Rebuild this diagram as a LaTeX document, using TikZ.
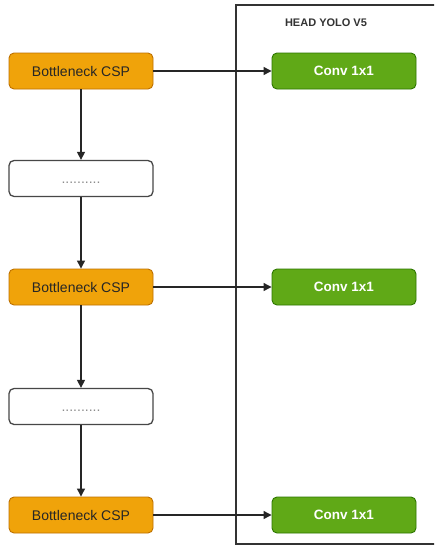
\documentclass[tikz,border=0pt]{standalone}
\usepackage{fontspec}
\setmainfont{Liberation Sans}
\usetikzlibrary{arrows.meta}
\definecolor{orfill}{HTML}{F0A30A}
\definecolor{ordraw}{HTML}{BD7000}
\definecolor{grfill}{HTML}{60A917}
\definecolor{grdraw}{HTML}{2D7600}
\definecolor{edge}{HTML}{333333}
\begin{document}
\begin{tikzpicture}[x=1pt,y=-1pt,
  box/.style={rounded corners=5pt, minimum width=144pt, minimum height=36pt, inner sep=0pt, font=\fontsize{14}{16}\selectfont, line width=0.9pt},
  csp/.style={box, fill=orfill, draw=ordraw, text=black!85},
  conv/.style={box, fill=grfill, draw=grdraw, text=white, font=\fontsize{13.5}{16}\selectfont\bfseries},
  dots/.style={box, fill=white, draw=edge!90, line width=1.3pt},
  dotstext/.style={font=\fontsize{14}{16}\selectfont, text=black!45, inner sep=0pt},
  arr/.style={-{Triangle[length=8pt,width=8pt]}, line width=1.2pt, draw=black!85}]
\useasboundingbox (0,0) rectangle (434,546);
\clip (0,0) rectangle (434,546);
\fill[white] (0,0) rectangle (434,546);
\draw[edge, line width=1.4pt] (450,5) -- (236,5) -- (236,544) -- (450,544);
\node[font=\fontsize{11}{13}\selectfont\bfseries, text=black!80] (title) at (326,23) {HEAD YOLO V5};
\node[csp] (b1) at (81,71) {Bottleneck CSP};
\node[dots] (d1) at (81,178.5) {};
\node[dotstext] (d1t) at (81,182.5) {..........};
\node[csp] (b2) at (81,287) {Bottleneck CSP};
\node[dots] (d2) at (81,406.5) {};
\node[dotstext] (d2t) at (81,410.5) {..........};
\node[csp] (b3) at (81,515) {Bottleneck CSP};
\node[conv] (c1) at (344,71) {Conv 1x1};
\node[conv] (c2) at (344,287) {Conv 1x1};
\node[conv] (c3) at (344,515) {Conv 1x1};
\draw[arr] (b1) -- (d1);
\draw[arr] (d1) -- (b2);
\draw[arr] (b2) -- (d2);
\draw[arr] (d2) -- (b3);
\draw[arr] (b1) -- (c1);
\draw[arr] (b2) -- (c2);
\draw[arr] (b3) -- (c3);
\end{tikzpicture}
\end{document}
